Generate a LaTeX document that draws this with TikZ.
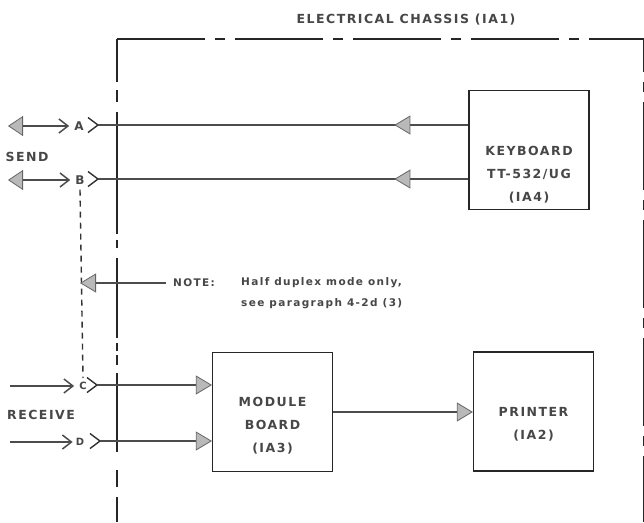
\documentclass[tikz,border=0pt]{standalone}
\usepackage{fontspec}
\setmainfont{DejaVu Sans}
\newfontfamily\lettering[LetterSpace=12]{DejaVu Sans}
\newfontfamily\noteface[LetterSpace=13]{DejaVu Sans}
\usetikzlibrary{positioning,arrows.meta}

\begin{document}
\begin{tikzpicture}[x=1pt, y=-1pt,
        unit/.style={rectangle, draw=black!85, line width=1.3pt, minimum width=120pt, minimum height=119pt},
        txt/.style={font=\lettering\bfseries\fontsize{12.5}{23}\selectfont, text=black!72, inner sep=1pt, align=center},
        small/.style={font=\noteface\bfseries\fontsize{10.5}{21}\selectfont, text=black!72, inner sep=1pt, align=left},
        wire/.style={draw=black!70, line width=1.5pt},
        garrow/.style={wire, -{Triangle[length=16pt, width=19pt, fill=gray!55, color=black!60, line width=0.8pt]}},
        sendarrow/.style={wire, {Triangle[length=15pt, width=20pt, fill=gray!55, color=black!60, line width=0.8pt]}-{Straight Barb[length=9pt, width=14pt, line width=1.5pt]}},
        recvarrow/.style={wire, -{Straight Barb[length=9pt, width=14pt, line width=1.5pt]}},
        chev/.style={draw=black!80, line width=1.4pt, line join=miter},
        chassis/.style={draw=black!85, line width=1.4pt, dash pattern=on 88pt off 10pt on 10pt off 10pt},
        jumper/.style={draw=black!80, line width=1.4pt, dash pattern=on 6pt off 5pt}
    ]
    \useasboundingbox (0,0) rectangle (644,522);

    % Chassis outline
    \coordinate (chtl) at (117,39);
    \coordinate (chtr) at (644,39);
    \draw[chassis] (chtl) -- (chtr) -- (644,522);
    \draw[chassis, dash pattern=on 43pt off 8pt on 12pt off 10pt on 122pt off 6pt on 8pt off 10pt on 80pt off 5pt on 8pt off 4pt on 10pt off 8pt on 79pt off 18pt on 17pt off 10pt on 40pt] (chtl) -- (117,522);
    \node[txt] (title) at (406,20) {ELECTRICAL CHASSIS (IA1)};

    % Units
    \node[unit] (kbd) at (529,150) {};
    \node[txt] at ([yshift=-25pt]kbd.center) {KEYBOARD\\TT-532/UG\\(IA4)};
    \node[unit] (mod) at (272.5,412) {};
    \node[txt] at ([yshift=-14pt]mod.center) {MODULE\\BOARD\\(IA3)};
    \node[unit] (prt) at (533.5,411.5) {};
    \node[txt] at ([yshift=-13pt]prt.center) {PRINTER\\(IA2)};

    % Ports
    \node[txt, font=\lettering\bfseries\fontsize{12}{12}\selectfont] (lA) at (79,126) {A};
    \node[txt, font=\lettering\bfseries\fontsize{12}{12}\selectfont] (lB) at (80,180) {B};
    \node[txt, font=\lettering\bfseries\fontsize{10}{10}\selectfont] (lC) at (83,386) {C};
    \node[txt, font=\lettering\bfseries\fontsize{10}{10}\selectfont] (lD) at (80,442) {D};
    \coordinate (cA) at (98,125);
    \coordinate (cB) at (98,179);
    \coordinate (cC) at (97,385);
    \coordinate (cD) at (100,441);
    \foreach \p in {A,B,C,D} {
        \draw[chev] ([xshift=-10pt, yshift=7.5pt]c\p) -- (c\p) -- ([xshift=-10pt, yshift=-7.5pt]c\p);
    }

    % Send / receive
    \coordinate (sA) at (8,126);
    \coordinate (sB) at (8,180);
    \coordinate (rC) at (10,386);
    \coordinate (rD) at (10,442);
    \draw[sendarrow] (sA) -- ([xshift=-4pt]lA.west);
    \draw[sendarrow] (sB) -- ([xshift=-4pt]lB.west);
    \draw[recvarrow] (rC) -- ([xshift=-4pt]lC.west);
    \draw[recvarrow] (rD) -- ([xshift=-2pt]lD.west);
    \node[txt] (send) at (27,157) {SEND};
    \node[txt] (recv) at (41,415) {RECEIVE};

    % Wiring
    \draw[wire] (cA) -- (cA -| kbd.west);
    \draw[wire] (cB) -- (cB -| kbd.west);
    \draw[garrow] (cA -| kbd.west) -- ++(-74,0);
    \draw[garrow] (cB -| kbd.west) -- ++(-74,0);
    \draw[garrow] (cC) -- (cC -| mod.west);
    \draw[garrow] (cD) -- (cD -| mod.west);
    \draw[garrow] (mod.east) -- (mod.east -| prt.west);

    % Half duplex jumper
    \draw[jumper] ([yshift=-4pt]lB.south) -- ([yshift=3pt]lC.north);
    \node[small, anchor=west] (note) at (172,283) {NOTE:};
    \node[small, anchor=north west] (notetext) at (240,276) {Half duplex mode only,\\see paragraph 4-2d (3)};
    \draw[garrow] ([xshift=-6pt]note.west) -- (note.west -| lB.south);
\end{tikzpicture}
\end{document}
